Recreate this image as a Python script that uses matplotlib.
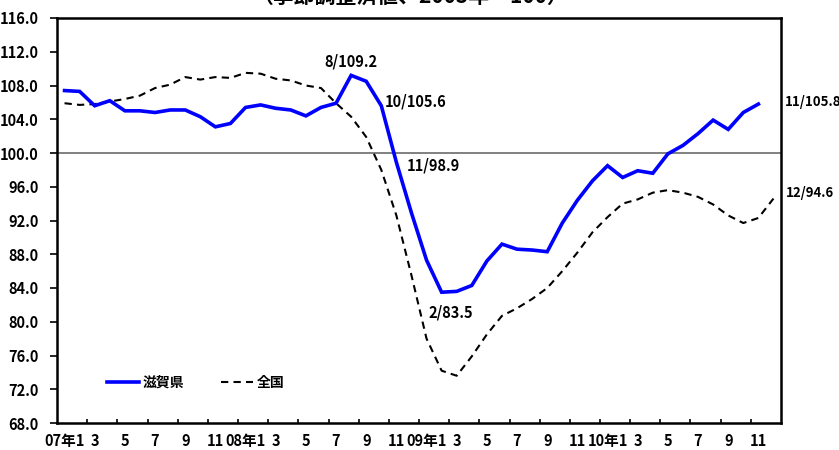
import matplotlib
matplotlib.use("Agg")
import matplotlib.pyplot as plt
import numpy as np

plt.rcParams["font.family"] = ["Noto Sans CJK JP", "DejaVu Sans"]
plt.rcParams["font.weight"] = "bold"

# 月次指数（2007年1月〜2010年12月）
years = ["07", "08", "09", "10"]
shiga = [
    107.4, 107.3, 105.6, 106.2, 105.0, 105.0, 104.8, 105.1, 105.1, 104.3, 103.1, 103.5,
    105.4, 105.7, 105.3, 105.1, 104.4, 105.4, 105.9, 109.2, 108.5, 105.6, 98.9, 92.9,
    87.3, 83.5, 83.6, 84.3, 87.2, 89.2, 88.6, 88.5, 88.3, 91.7, 94.4, 96.7,
    98.5, 97.1, 97.9, 97.6, 99.9, 100.9, 102.3, 103.9, 102.8, 104.8, 105.8,
]
zenkoku = [
    105.9, 105.7, 105.8, 106.1, 106.4, 106.8, 107.7, 108.1, 109.0, 108.7, 109.0, 108.9,
    109.5, 109.4, 108.8, 108.6, 108.0, 107.7, 105.9, 104.3, 101.9, 98.0, 92.6, 85.5,
    78.0, 74.2, 73.6, 75.9, 78.5, 80.7, 81.6, 82.7, 84.0, 86.0, 88.2, 90.6,
    92.4, 94.0, 94.5, 95.3, 95.6, 95.3, 94.8, 93.9, 92.6, 91.7, 92.3, 94.6,
]
# 注記する月（系列, 月番号）
notes_shiga = [(19, "8/109.2"), (21, "10/105.6"), (22, "11/98.9"), (25, "2/83.5"), (46, "11/105.8")]
notes_zenkoku = [(47, "12/94.6")]

n = len(years) * 12
labels = []
for y in years:
    for m in range(1, 13, 2):
        labels.append(f"{y}年{m}" if m == 1 else str(m))

fig = plt.figure(figsize=(8.39, 4.5), dpi=100)
ax = fig.add_axes([57 / 839, 1 - 423 / 450, 724 / 839, 405 / 450])

ax.axhline(100, color="#808080", lw=1.4, zorder=1)
ax.plot(range(len(shiga)), shiga, color="#0000ff", lw=2.6, label="滋賀県", zorder=3,
        solid_joinstyle="miter")
ax.plot(range(len(zenkoku)), zenkoku, color="black", lw=1.5, ls=(0, (3.5, 2.5)),
        label="全国", zorder=2)

ax.set_xlim(-0.5, n - 0.5)
ax.set_ylim(68, 116)
ax.set_yticks(np.arange(68, 116.1, 4))
ax.set_yticklabels([f"{v:.1f}" for v in np.arange(68, 116.1, 4)])
ax.tick_params(axis="y", direction="out", length=5, width=1.2, pad=8, labelsize=10.5)

ax.set_xticks(np.arange(0, n, 2))
ax.set_xticklabels(labels)
ax.set_xticks(np.arange(1.5, n - 1, 2), minor=True)
ax.tick_params(axis="x", which="major", length=0, pad=7, labelsize=10.5)
ax.tick_params(axis="x", which="minor", direction="in", length=3, width=1.2)

for s in ax.spines.values():
    s.set_linewidth(1.8)

# 注記テキスト
ax.text(19, 110.8, notes_shiga[0][1], ha="center", va="center", fontsize=10.5)
ax.text(21.25, 106.05, notes_shiga[1][1], ha="left", va="center", fontsize=10.5)
ax.text(22.7, 98.46, notes_shiga[2][1], ha="left", va="center", fontsize=10.5)
ax.text(24.1, 81.15, notes_shiga[3][1], ha="left", va="center", fontsize=10.5)
ax.text(47.75, 106.05, notes_shiga[4][1], ha="left", va="center", fontsize=9.5, clip_on=False)
ax.text(47.85, 95.26, notes_zenkoku[0][1], ha="left", va="center", fontsize=9.5, clip_on=False)

ax.legend(loc="center left", bbox_to_anchor=(0.069, 0.099), ncol=2, frameon=False,
          handlelength=2.3, handletextpad=0.3, columnspacing=2.6, borderpad=0,
          borderaxespad=0, prop={"size": 10, "weight": "bold"})

fig.text(410 / 839, 1 - 7 / 450, "（季節調整済値、2005年＝100）", ha="center", va="bottom",
         fontsize=15, fontweight="bold")

fig.savefig("out.png", dpi=100)
